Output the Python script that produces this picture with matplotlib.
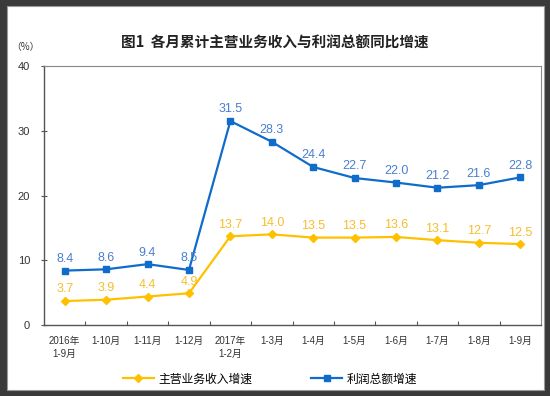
import matplotlib
matplotlib.use("Agg")
import matplotlib.pyplot as plt
from matplotlib.patches import Rectangle
from matplotlib.lines import Line2D

plt.rcParams['font.family'] = ['Liberation Sans', 'Noto Sans CJK SC', 'DejaVu Sans']

categories = ["2016年\n1-9月", "1-10月", "1-11月", "1-12月", "2017年\n1-2月", "1-3月",
              "1-4月", "1-5月", "1-6月", "1-7月", "1-8月", "1-9月"]
revenue_growth = [3.7, 3.9, 4.4, 4.9, 13.7, 14.0, 13.5, 13.5, 13.6, 13.1, 12.7, 12.5]
profit_growth = [8.4, 8.6, 9.4, 8.5, 31.5, 28.3, 24.4, 22.7, 22.0, 21.2, 21.6, 22.8]
yticks = [0, 10, 20, 30, 40]
title = "图1  各月累计主营业务收入与利润总额同比增速"
series_names = ["主营业务收入增速", "利润总额增速"]

W, H = 550, 396
fig = plt.figure(figsize=(W / 100, H / 100), dpi=100)
fig.patch.set_facecolor("#3a3a3a")
fig.patches.append(Rectangle((7 / W, 6 / H), (544 - 7) / W, (390 - 6) / H,
                             transform=fig.transFigure, facecolor="white",
                             edgecolor="#9a9a9a", linewidth=0.8, zorder=-10))

ax = fig.add_axes([44 / W, (H - 325) / H, (541 - 44) / W, (325 - 66) / H])
ax.set_zorder(1)
ax.set_facecolor("white")

n = len(categories)
x = list(range(n))
yellow = "#FFC000"
blue = "#0F6CCB"
ax.plot(x, revenue_growth, color=yellow, lw=1.6, marker="D", ms=4.5, zorder=3)
ax.plot(x, profit_growth, color=blue, lw=1.6, marker="s", ms=3.8, zorder=3)

for xi, v in zip(x, revenue_growth):
    ax.annotate(f"{v:.1f}", (xi, v), xytext=(0, 4), textcoords="offset points",
                ha="center", va="bottom", fontsize=9, color="#F5BE2E")
for xi, v in zip(x, profit_growth):
    ax.annotate(f"{v:.1f}", (xi, v), xytext=(0, 4), textcoords="offset points",
                ha="center", va="bottom", fontsize=9, color="#4A7FD0")

ax.set_xlim(-0.5, n - 0.5)
ax.set_ylim(0, 40)
ax.set_yticks(yticks)
ax.set_yticklabels([str(t) for t in yticks], fontsize=8, color="#333333")
ax.tick_params(axis="y", direction="inout", length=4, width=0.8, color="#555555", pad=8)

ax.set_xticks([i - 0.5 for i in range(1, n)], minor=False)
ax.set_xticklabels([])
ax.tick_params(axis="x", direction="in", length=3, width=0.8, color="#555555")
ax.set_xticks(x, minor=True)
ax.set_xticklabels(categories, minor=True, fontsize=7, color="#333333", linespacing=1.3)
ax.tick_params(axis="x", which="minor", length=0, pad=8)

for s in ["left", "bottom"]:
    ax.spines[s].set_color("#555555")
    ax.spines[s].set_linewidth(1.0)
for s in ["top", "right"]:
    ax.spines[s].set_color("#888888")
    ax.spines[s].set_linewidth(0.8)

fig.text(275 / W, 1 - 43 / H, title, ha="center", va="center", fontsize=10.5,
         fontweight="bold", color="#222222", family=['Noto Sans CJK SC', 'DejaVu Sans'])
fig.text(25 / W, 1 - 47 / H, "（%）", ha="center", va="center", fontsize=7, color="#333333",
         family=['Noto Sans CJK SC', 'DejaVu Sans'])

handles = [Line2D([0], [0], color=yellow, lw=1.6, marker="D", ms=4.5),
           Line2D([0], [0], color=blue, lw=1.6, marker="s", ms=3.8)]
fig.legend(handles, series_names, loc="center", bbox_to_anchor=(270 / W, 1 - 379 / H),
           ncol=2, frameon=False, prop={'family': ['Noto Sans CJK SC'], 'size': 8.5},
           columnspacing=5, handlelength=2.6, handletextpad=0.4)

fig.savefig("out.png", dpi=100, facecolor=fig.get_facecolor())
